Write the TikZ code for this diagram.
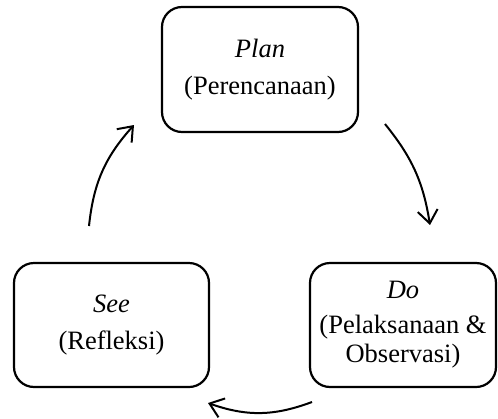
\documentclass[tikz,border=0pt]{standalone}
\usepackage{fontspec}
\setmainfont{Liberation Serif}
\usetikzlibrary{arrows.meta}
\begin{document}
\begin{tikzpicture}[x=1pt,y=-1pt,
  stagebox/.style={draw, line width=2.2pt, rounded corners=20pt, align=center,
    font=\fontsize{26.5}{29}\selectfont, inner sep=0pt},
  cyc/.style={line width=2pt, -{Straight Barb[length=13pt,width=20pt,line width=2pt]}}]
\useasboundingbox (0,0) rectangle (498,418);
\node[stagebox, minimum width=196pt, minimum height=125pt] (plan) at (260,69.5)
  {\textit{Plan}\\[8pt](Perencanaan)};
\node[stagebox, minimum width=186pt, minimum height=124pt] (do) at (403,325)
  {\textit{Do}\\[6pt](Pelaksanaan \&\\Observasi)};
\node[stagebox, minimum width=195pt, minimum height=124pt] (see) at (111.5,325)
  {\textit{See}\\[8pt](Refleksi)};
\coordinate (a1s) at (385,124);
\coordinate (a1e) at (430,225);
\coordinate (a2s) at (312,402);
\coordinate (a2e) at (208,403);
\coordinate (a3s) at (89,226);
\coordinate (a3e) at (134,125);
\draw[cyc] (a1s) to[bend left=15] (a1e);
\draw[cyc] (a2s) to[bend left=20] (a2e);
\draw[cyc] (a3s) to[bend left=18] (a3e);
\end{tikzpicture}
\end{document}
